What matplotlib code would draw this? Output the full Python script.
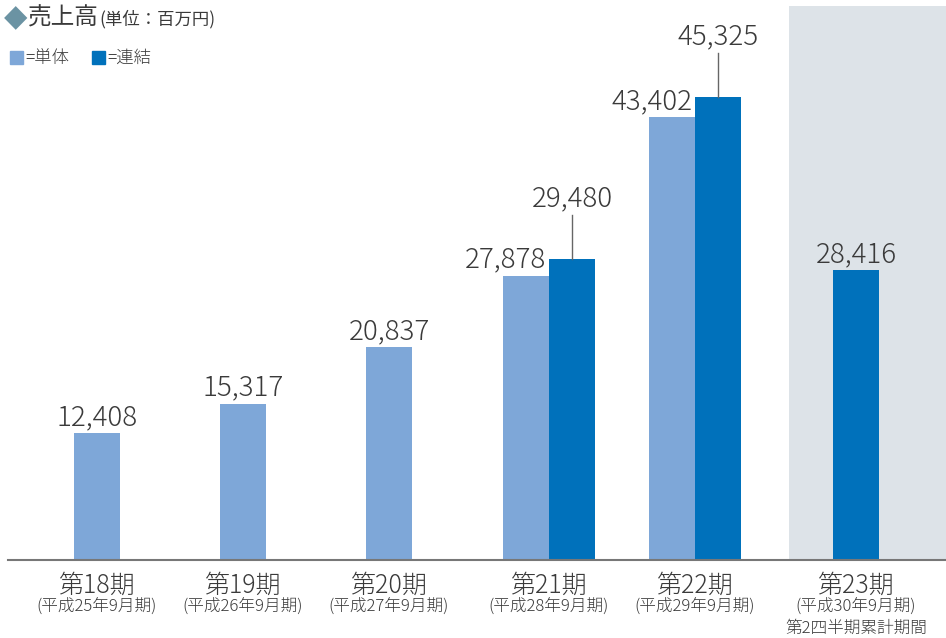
import matplotlib.pyplot as plt

plt.rcParams['font.family'] = ['Noto Sans CJK JP', 'DejaVu Sans']
plt.rcParams['font.weight'] = 'light'

periods = ['第18期', '第19期', '第20期', '第21期', '第22期', '第23期']
subtitles = ['(平成25年9月期)', '(平成26年9月期)', '(平成27年9月期)',
             '(平成28年9月期)', '(平成29年9月期)', '(平成30年9月期)\n第2四半期累計期間']
tanntai = [12408, 15317, 20837, 27878, 43402, None]   # 単体
renketsu = [None, None, None, 29480, 45325, 28416]    # 連結

c_light = '#7ea7d8'
c_dark = '#0071bb'
c_text = '#3a3a3a'

W, H = 946, 638
k = 98.0          # data units per pixel
base_px = 78      # baseline height from bottom in px

fig = plt.figure(figsize=(W / 100, H / 100), dpi=100)
ax = fig.add_axes([0, 0, 1, 1])
ax.set_xlim(0, W)
ax.set_ylim(-base_px * k, (H - base_px) * k)
ax.axis('off')

centers = [97, 243, 389, 549, 695, 856]
bw = 46
vfs = 20

# shaded background for the current (partial) period
ax.axvspan(789, 950, ymin=base_px / H, ymax=(H - 6) / H, color='#dde3e8', zorder=0, lw=0)

for i, c in enumerate(centers):
    t, r = tanntai[i], renketsu[i]
    if t is not None and r is not None:
        ax.bar(c - bw / 2, t, width=bw, color=c_light, zorder=2)
        ax.bar(c + bw / 2, r, width=bw, color=c_dark, zorder=2)
        ax.text(c - 3, t + 2 * k, f'{t:,}', ha='right', va='bottom', fontsize=vfs, color=c_text)
        ax.plot([c + bw / 2] * 2, [r, r + 44 * k], color='#666666', lw=1, zorder=3)
        ax.text(c + bw / 2, r + 47 * k, f'{r:,}', ha='center', va='bottom', fontsize=vfs, color=c_text)
    elif t is not None:
        ax.bar(c, t, width=bw, color=c_light, zorder=2)
        ax.text(c, t + 2 * k, f'{t:,}', ha='center', va='bottom', fontsize=vfs, color=c_text)
    else:
        ax.bar(c, r, width=bw, color=c_dark, zorder=2)
        ax.text(c, r + 2 * k, f'{r:,}', ha='center', va='bottom', fontsize=vfs, color=c_text)

    ax.text(c, -25 * k, periods[i], ha='center', va='center', fontsize=18, color=c_text)
    ax.text(c, -39 * k, subtitles[i], ha='center', va='top', fontsize=12,
            color=c_text, linespacing=1.25)

ax.plot([8, W], [0, 0], color='#777777', lw=1.5, zorder=4)

# title and legend
fig.text(4 / W, 1 - 18 / H, '◆', fontsize=22, color='#6b93a3', va='center', ha='left',
         family=['DejaVu Sans'], fontweight='normal')
fig.text(28 / W, 1 - 18 / H, '売上高', fontsize=17, color=c_text, va='center', ha='left',
         fontweight='normal')
fig.text(99 / W, 1 - 19 / H, '(単位：百万円)', fontsize=12.5, color=c_text, va='center', ha='left',
         fontweight='normal')

fig.patches.append(plt.Rectangle((10 / W, 1 - 64 / H), 13 / W, 13 / H,
                                 transform=fig.transFigure, color=c_light))
fig.text(25 / W, 1 - 58 / H, '=単体', fontsize=12.5, color=c_text, va='center', ha='left')
fig.patches.append(plt.Rectangle((92 / W, 1 - 64 / H), 13 / W, 13 / H,
                                 transform=fig.transFigure, color=c_dark))
fig.text(107 / W, 1 - 58 / H, '=連結', fontsize=12.5, color=c_text, va='center', ha='left')

fig.savefig('out.png', dpi=100)
